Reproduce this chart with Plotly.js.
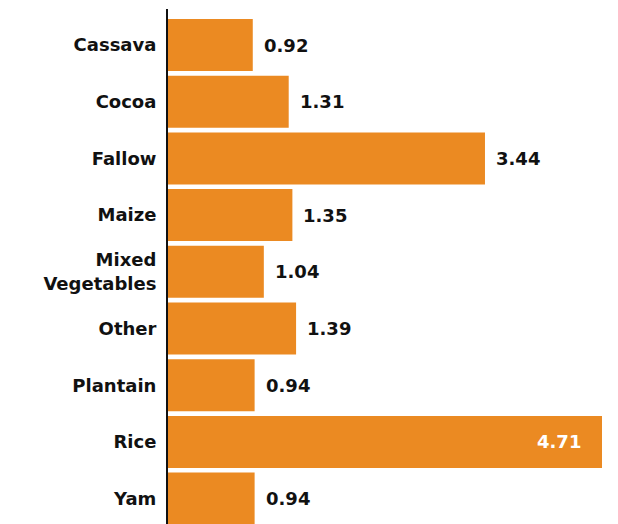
<!DOCTYPE html>
<html>
<head>
<meta charset="utf-8">
<script src="https://cdn.plot.ly/plotly-3.0.1.min.js"></script>
<style>html,body{margin:0;padding:0;background:#fff;}#chart{width:618px;height:524px;}</style>
</head>
<body>
<div id="chart"></div>
<script>
const categories = ["Cassava", "Cocoa", "Fallow", "Maize", "Mixed<br>Vegetables", "Other", "Plantain", "Rice", "Yam"];
const values = [0.92, 1.31, 3.44, 1.35, 1.04, 1.39, 0.94, 4.71, 0.94];
const valueLabels = ["0.92", "1.31", "3.44", "1.35", "1.04", "1.39", "0.94", "4.71", "0.94"];

const barColor = "#EB8A22";
const fontFam = "'DejaVu Sans', sans-serif";
const maxVal = Math.max(...values);

const trace = {
  type: "bar",
  orientation: "h",
  x: values,
  y: categories,
  marker: { color: barColor },
  hoverinfo: "none"
};

const annotations = values.map((v, i) => {
  const inside = v === maxVal;
  return {
    x: v,
    y: categories[i],
    xref: "x",
    yref: "y",
    text: valueLabels[i],
    showarrow: false,
    xanchor: inside ? "right" : "left",
    xshift: inside ? -19 : 9,
    font: { family: fontFam, size: 18, color: inside ? "#ffffff" : "#111111", weight: 700 }
  };
});

const layout = {
  width: 618,
  height: 524,
  margin: { l: 168, r: 16, t: 9, b: 0, pad: 0 },
  paper_bgcolor: "#ffffff",
  plot_bgcolor: "#ffffff",
  showlegend: false,
  bargap: 0.083,
  xaxis: {
    range: [0, maxVal],
    showgrid: false,
    zeroline: false,
    showline: false,
    showticklabels: false,
    ticks: "",
    fixedrange: true
  },
  yaxis: {
    type: "category",
    categoryorder: "array",
    categoryarray: categories,
    range: [8.448, -0.635],
    showgrid: false,
    zeroline: false,
    showline: true,
    linecolor: "#111111",
    linewidth: 2,
    ticks: "",
    ticklabelstandoff: 6,
    tickfont: { family: fontFam, size: 18, color: "#111111", weight: 700 },
    fixedrange: true
  },
  annotations: annotations
};

Plotly.newPlot("chart", [trace], layout, { displayModeBar: false, staticPlot: true });
</script>
</body>
</html>
